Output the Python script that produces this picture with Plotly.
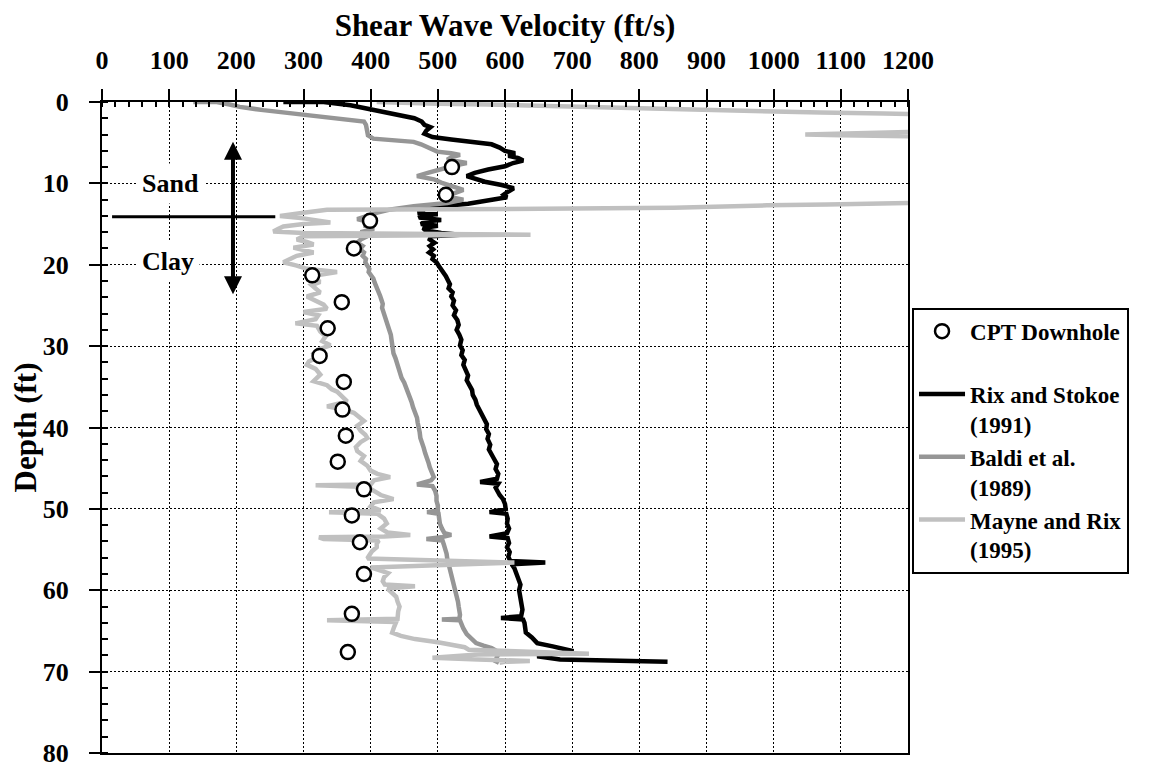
import plotly.graph_objects as go

# CPT downhole measurements
cpt_depth = [8.0, 11.4, 14.6, 18.0, 21.3, 24.6, 27.8, 31.2, 34.4, 37.8, 41.0, 44.2, 47.6, 50.8, 54.1, 58.0, 62.9, 67.6]
cpt_vs = [521, 512, 399, 375, 313, 357, 336, 324, 360, 358, 363, 351, 390, 372, 384, 390, 372, 366]

# Rix and Stokoe (1991)
rix_depth = [0.0, 0.0, 0.4, 0.8, 1.2, 1.6, 2.0, 2.4, 2.8, 3.1, 3.5, 3.9, 4.3, 4.6, 4.9, 5.2, 5.6, 6.0, 6.3, 6.6,
             6.9, 7.2, 7.5, 7.9, 8.3, 8.7, 9.1, 9.4, 9.8, 10.2, 10.6, 11.0, 11.4, 11.7, 12.1, 12.5, 12.8, 13.0, 13.3, 13.6,
             13.8, 13.9, 14.2, 14.5, 14.7, 15.0, 15.2, 15.5, 15.8, 16.1, 16.3, 16.5, 16.9, 17.3, 17.7, 18.1, 18.5, 18.9, 19.3, 19.7,
             20.1, 20.5, 20.9, 21.4, 21.9, 22.4, 22.9, 23.4, 23.9, 24.4, 25.0, 25.6, 26.2, 26.8, 27.4, 28.0, 28.6, 29.2, 29.9, 30.5,
             31.1, 31.7, 32.3, 33.0, 33.6, 34.2, 34.8, 35.4, 36.0, 36.6, 37.2, 37.8, 38.4, 39.0, 39.6, 40.2, 40.8, 41.4, 42.1, 42.7,
             43.3, 43.9, 44.5, 45.1, 45.7, 46.3, 46.7, 46.9, 47.4, 47.8, 48.3, 48.8, 49.4, 50.0, 50.4, 50.6, 51.2, 51.8, 52.4, 53.0,
             53.4, 53.6, 54.2, 54.7, 55.3, 55.9, 56.4, 56.6, 56.8, 57.3, 57.9, 58.6, 59.3, 60.0, 60.8, 61.6, 62.4, 63.2, 63.4, 63.6,
             64.0, 64.6, 65.2, 65.8, 66.5, 66.9, 67.3, 67.5, 67.8, 68.1, 68.5, 68.7, 68.8]
rix_vs = [270, 330, 370, 395, 420, 444, 465, 476, 480, 489, 483, 480, 492, 520, 555, 580, 592, 600, 615, 605,
          620, 627, 612, 600, 575, 555, 543, 555, 570, 595, 613, 605, 598, 603, 575, 545, 505, 474, 480, 470,
          500, 475, 472, 505, 480, 475, 500, 478, 482, 505, 533, 490, 488, 495, 488, 493, 487, 494, 492, 498,
          501, 505, 508, 512, 515, 518, 516, 522, 520, 524, 522, 527, 524, 529, 531, 528, 532, 535, 533, 537,
          535, 540, 538, 542, 545, 543, 548, 551, 552, 556, 558, 562, 566, 570, 573, 572, 576, 574, 578, 576,
          581, 584, 588, 586, 590, 588, 563, 590, 586, 588, 592, 597, 600, 601, 577, 602, 604, 603, 606, 603,
          577, 604, 606, 603, 607, 605, 608, 660, 610, 614, 617, 620, 623, 621, 623, 625, 626, 624, 594, 627,
          629, 630, 631, 640, 648, 671, 695, 702, 660, 648, 682, 762, 842]

# Baldi et al. (1989)
baldi_depth = [0.0, 0.0, 0.3, 0.6, 1.0, 1.3, 1.6, 1.9, 2.2, 2.4, 2.8, 3.3, 3.7, 4.1, 4.5, 4.7, 4.9, 5.2, 5.5, 5.8,
               6.1, 6.3, 6.5, 6.8, 7.1, 7.3, 7.5, 7.8, 8.1, 8.3, 8.7, 9.1, 9.3, 9.5, 9.9, 10.2, 10.4, 10.8, 11.2, 11.6,
               12.0, 12.4, 12.8, 13.2, 13.6, 14.0, 14.4, 14.8, 15.2, 15.6, 16.0, 16.5, 16.9, 17.3, 17.7, 18.1, 18.5, 18.9, 19.3, 19.7,
               20.1, 20.5, 20.9, 21.3, 21.7, 22.2, 22.7, 23.2, 23.8, 24.3, 24.8, 25.3, 25.8, 26.3, 26.8, 27.4, 28.0, 28.6, 29.2, 29.8,
               30.4, 30.9, 31.5, 32.1, 32.7, 33.3, 33.9, 34.5, 35.1, 35.7, 36.3, 36.9, 37.5, 38.1, 38.8, 39.4, 40.0, 40.6, 41.3, 41.9,
               42.5, 43.1, 43.7, 44.3, 44.9, 45.5, 46.1, 46.5, 47.0, 47.2, 47.8, 48.4, 49.0, 49.6, 50.2, 50.4, 50.6, 51.2, 51.8, 52.4,
               53.0, 53.2, 53.5, 53.7, 53.9, 54.4, 54.9, 55.5, 56.1, 56.7, 57.3, 57.9, 58.5, 59.1, 59.8, 60.4, 60.8, 61.4, 62.0, 62.4,
               63.0, 63.5, 63.6, 63.7, 64.0, 64.7, 65.4, 66.0, 66.5, 66.8, 67.1, 67.4, 67.7, 68.2, 68.7, 68.9]
baldi_vs = [136, 171, 190, 205, 240, 270, 300, 330, 365, 390, 393, 394, 395, 396, 404, 440, 464, 475, 484, 492,
            499, 520, 533, 520, 514, 530, 543, 525, 510, 504, 485, 469, 480, 494, 505, 518, 523, 538, 525, 514,
            538, 514, 464, 430, 410, 395, 380, 400, 390, 405, 385, 395, 385, 380, 388, 384, 390, 388, 393, 392,
            395, 398, 397, 401, 404, 406, 409, 411, 414, 416, 418, 417, 419, 421, 423, 424, 428, 430, 431, 432,
            433, 434, 437, 439, 441, 443, 446, 450, 453, 455, 458, 461, 463, 466, 469, 470, 472, 473, 474, 477,
            479, 481, 484, 486, 488, 491, 494, 490, 469, 492, 496, 498, 498, 500, 500, 484, 501, 502, 503, 506,
            510, 520, 505, 483, 507, 509, 511, 513, 514, 516, 518, 520, 522, 523, 526, 528, 529, 530, 531, 532,
            533, 532, 506, 533, 534, 538, 543, 550, 557, 568, 580, 586, 591, 588, 586, 591]

# Mayne and Rix (1995)
mayne_depth = [0.0, 0.1, 0.2, 0.3, 0.45, 0.6, 0.75, 0.9, 1.05, 1.2, 1.3, 1.4, 1.5, 1.7, 3.5, 3.7, 3.8, 4.0, 4.1, 4.2,
               4.3, 9.3, 9.5, 9.7, 12.3, 12.4, 12.5, 12.6, 12.7, 12.9, 13.0, 13.1, 13.2, 13.25, 13.6, 14.0, 14.3, 14.6, 14.8, 15.0,
               15.3, 15.6, 15.9, 16.1, 16.3, 16.5, 16.9, 17.2, 17.5, 17.9, 18.2, 18.5, 18.9, 19.3, 19.7, 20.1, 20.5, 20.9, 21.3, 21.7,
               22.1, 22.5, 23.0, 23.4, 23.9, 24.4, 24.9, 25.4, 25.8, 26.2, 26.7, 27.2, 27.5, 28.2, 28.8, 29.4, 29.9, 30.4, 30.9, 31.4,
               31.9, 32.3, 32.8, 33.5, 34.0, 34.3, 34.8, 35.3, 35.6, 36.2, 36.8, 37.4, 37.8, 38.2, 38.7, 39.2, 39.8, 40.4, 40.9, 41.3,
               41.8, 42.4, 42.9, 43.5, 44.1, 44.7, 45.3, 45.7, 46.1, 46.5, 47.0, 47.1, 47.3, 47.8, 48.3, 48.8, 49.2, 49.7, 50.2, 50.4,
               50.6, 51.2, 51.8, 52.4, 52.9, 53.2, 53.4, 53.5, 53.7, 53.9, 54.3, 54.7, 55.2, 55.7, 56.1, 56.6, 57.2, 57.6, 57.9, 58.4,
               58.9, 59.3, 59.5, 59.8, 60.3, 60.8, 61.4, 62.0, 62.6, 63.2, 63.5, 63.7, 63.9, 64.5, 65.2, 65.6, 66.0, 66.4, 66.7, 67.0,
               67.3, 67.6, 67.8, 67.9, 68.1, 68.3, 68.5, 68.7, 68.8, 68.9]
mayne_vs = [409, 440, 500, 573, 650, 722, 800, 866, 920, 980, 1070, 1164, 1210, 1300, 1300, 1210, 1150, 1047, 1100, 1180,
            1300, 1300, 1203, 1300, 1300, 1210, 1164, 1080, 990, 900, 851, 700, 444, 335, 300, 265, 300, 320, 340, 300,
            270, 262, 255, 300, 638, 300, 290, 305, 315, 285, 300, 315, 290, 280, 270, 290, 305, 350, 320, 315,
            325, 312, 320, 325, 305, 318, 330, 335, 300, 322, 318, 288, 320, 325, 333, 328, 340, 322, 315, 320,
            308, 305, 318, 325, 318, 315, 335, 342, 350, 358, 365, 335, 360, 375, 382, 390, 380, 385, 392, 395,
            385, 378, 380, 390, 385, 395, 400, 410, 429, 405, 400, 318, 395, 404, 415, 434, 405, 400, 415, 338,
            410, 420, 424, 415, 425, 459, 420, 323, 330, 412, 409, 409, 402, 398, 395, 614, 400, 415, 426, 420,
            418, 421, 466, 425, 432, 438, 440, 443, 441, 440, 440, 335, 438, 435, 432, 445, 466, 500, 523, 540,
            546, 650, 725, 560, 520, 492, 560, 637, 600, 592]

font_family = "Liberation Serif, Times New Roman, serif"

fig = go.Figure()

fig.add_trace(go.Scatter(x=rix_vs, y=rix_depth, mode='lines', name='Rix and Stokoe<br>(1991)',
                         line=dict(color='black', width=4.5), legendrank=2))
fig.add_trace(go.Scatter(x=baldi_vs, y=baldi_depth, mode='lines', name='Baldi et al.<br>(1989)',
                         line=dict(color='#969696', width=4.5), legendrank=3))
fig.add_trace(go.Scatter(x=mayne_vs, y=mayne_depth, mode='lines', name='Mayne and Rix<br>(1995)',
                         line=dict(color='#c0c0c0', width=4.5), legendrank=4))
fig.add_trace(go.Scatter(x=cpt_vs, y=cpt_depth, mode='markers', name='CPT Downhole<br> ',
                         marker=dict(symbol='circle', size=14, color='white',
                                     line=dict(color='black', width=2.5)),
                         legendrank=1))

# soil layer labels and boundary
fig.add_annotation(x=102, y=10, text='Sand', showarrow=False, bgcolor='white', borderpad=5)
fig.add_annotation(x=99, y=19.6, text='Clay', showarrow=False, bgcolor='white', borderpad=5)
fig.add_shape(type='line', x0=15, x1=258, y0=14.1, y1=14.1, line=dict(color='black', width=3))
fig.add_annotation(x=195, y=4.9, ax=195, ay=23.8, axref='x', ayref='y', text='',
                   showarrow=True, arrowside='end+start', arrowhead=2, arrowsize=0.9,
                   arrowwidth=4, arrowcolor='black')

fig.update_xaxes(side='top', range=[0, 1200], dtick=100, tick0=0,
                 title=dict(text='Shear Wave Velocity (ft/s)', standoff=22),
                 showline=True, linecolor='black', linewidth=2, mirror=True,
                 ticks='outside', ticklen=11, tickwidth=2, tickcolor='black',
                 ticklabelstandoff=10,
                 showgrid=True, gridcolor='black', gridwidth=1, griddash='2px,2px',
                 minor=dict(dtick=20, ticks='inside', ticklen=5, tickwidth=2, tickcolor='black', showgrid=False),
                 zeroline=False, automargin=False)
fig.update_yaxes(range=[80, 0], dtick=10, tick0=0,
                 title=dict(text='Depth (ft)', standoff=2),
                 showline=True, linecolor='black', linewidth=2, mirror=True,
                 ticks='outside', ticklen=11, tickwidth=2, tickcolor='black',
                 ticklabelstandoff=15, ticklabeloverflow='allow',
                 showgrid=True, gridcolor='black', gridwidth=1, griddash='2px,2px',
                 minor=dict(dtick=2, ticks='inside', ticklen=6, tickwidth=2, tickcolor='black', showgrid=False),
                 zeroline=False, automargin=False)

# the page body adds an 8px offset, so the figure is 8px smaller and margins shifted
fig.update_layout(width=1158, height=763,
                  margin=dict(l=94, r=258, t=94, b=18),
                  paper_bgcolor='white', plot_bgcolor='white',
                  font=dict(family=font_family, size=26, color='black', weight='bold'),
                  legend=dict(x=1.005, y=0.684, xanchor='left', yanchor='top',
                              bordercolor='black', borderwidth=2, bgcolor='white',
                              font=dict(size=23), valign='top', itemwidth=46, tracegroupgap=0,
                              entrywidth=200),
                  showlegend=True)

fig.write_html("out.html")
